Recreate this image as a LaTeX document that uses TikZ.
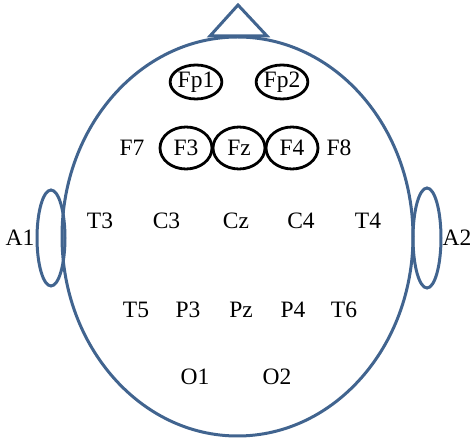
\documentclass[tikz,border=0pt]{standalone}
\usepackage{fontspec}
\setmainfont{Liberation Serif}
\usetikzlibrary{shapes.geometric}
\definecolor{headblue}{HTML}{41648F}
\tikzset{
  lbl/.style={font=\fontsize{23.5}{23.5}\selectfont, inner sep=0pt, text=black},
  elec/.style={lbl, draw=black, line width=2.8pt, ellipse, minimum width=50pt, minimum height=34pt},
  elecf/.style={elec, minimum width=52pt, minimum height=42pt},
  outline/.style={draw=headblue, line width=3pt}
}
\begin{document}
\begin{tikzpicture}[x=1pt,y=-1pt]
\useasboundingbox (0,0) rectangle (472,443);
% head
\draw[outline] (237.5,236.5) ellipse [x radius=175.5, y radius=199.5];
% nose
\draw[outline, line join=miter] (210,36) -- (238,5) -- (267,36) -- cycle;
% ears
\draw[outline] (51,238) ellipse [x radius=14, y radius=48];
\draw[outline] (427,238) ellipse [x radius=14, y radius=50];
\node[lbl] (A1) at (20,238) {A1};
\node[lbl] (A2) at (457,238) {A2};
% frontal pole
\node[elec] (Fp1) at (196,82) {Fp1};
\node[elec] (Fp2) at (282,82) {Fp2};
% frontal
\node[lbl] (F7) at (132,148) {F7};
\node[elecf] (F3) at (186,148) {F3};
\node[elecf] (Fz) at (239,148) {Fz};
\node[elecf] (F4) at (292,148) {F4};
\node[lbl] (F8) at (339,148) {F8};
% central
\node[lbl] (T3) at (100,221) {T3};
\node[lbl] (C3) at (166.5,221) {C3};
\node[lbl] (Cz) at (236,221) {Cz};
\node[lbl] (C4) at (301,221) {C4};
\node[lbl] (T4) at (368,221) {T4};
% parietal
\node[lbl] (T5) at (136,310) {T5};
\node[lbl] (P3) at (188,310) {P3};
\node[lbl] (Pz) at (241,310) {Pz};
\node[lbl] (P4) at (293,310) {P4};
\node[lbl] (T6) at (344,310) {T6};
% occipital
\node[lbl] (O1) at (195,377) {O1};
\node[lbl] (O2) at (277,377) {O2};
\end{tikzpicture}
\end{document}
